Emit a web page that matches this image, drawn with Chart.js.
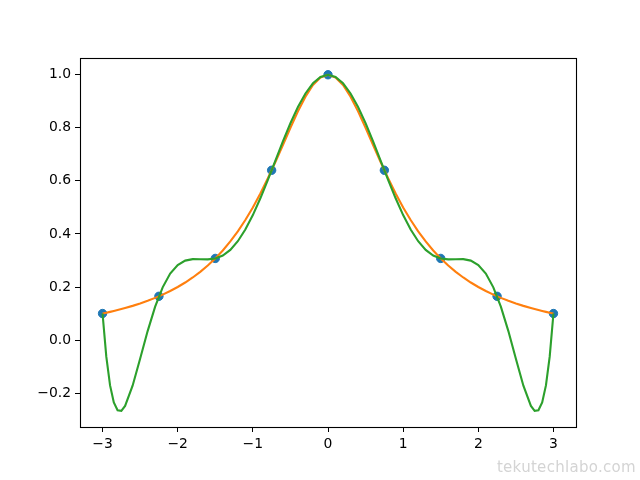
<!DOCTYPE html>
<html>
<head>
<meta charset="utf-8">
<script src="https://cdn.jsdelivr.net/npm/chart.js@4"></script>
<style>
  html, body { margin: 0; padding: 0; background: #fff; }
  #wrap { position: relative; width: 640px; height: 480px; }
  #mark { position: absolute; right: 4px; top: 458px; font-family: "DejaVu Sans", sans-serif; font-size: 15px; color: #d4d4d4; letter-spacing: 0.3px; }
</style>
</head>
<body>
<div id="wrap">
  <canvas id="chart" width="640" height="480"></canvas>
  <div id="mark">tekutechlabo.com</div>
</div>
<script>
// sample points
const nodeX = [-3, -2.25, -1.5, -0.75, 0, 0.75, 1.5, 2.25, 3];
const nodeY = [0.1, 0.164948, 0.307692, 0.64, 1.0, 0.64, 0.307692, 0.164948, 0.1];

// x positions of the curves
const curveX = [
  -3.0, -2.95, -2.9, -2.85, -2.8, -2.75, -2.7, -2.6, -2.5, -2.4, -2.3, -2.2, -2.1, -2.0,
  -1.9, -1.8, -1.7, -1.6, -1.5, -1.4, -1.3, -1.2, -1.1, -1.0,
  -0.9, -0.8, -0.7, -0.6, -0.5, -0.4, -0.3, -0.2, -0.1, 0.0,
  0.1, 0.2, 0.3, 0.4, 0.5, 0.6, 0.7, 0.8, 0.9, 1.0,
  1.1, 1.2, 1.3, 1.4, 1.5, 1.6, 1.7, 1.8, 1.9, 2.0,
  2.1, 2.2, 2.3, 2.4, 2.5, 2.6, 2.7, 2.75, 2.8, 2.85, 2.9, 2.95, 3.0
];

// orange: original function
const trueY = [
  0.1, 0.103066, 0.10627, 0.109619, 0.113122, 0.116788, 0.120627, 0.128866, 0.137931, 0.147929, 0.158983, 0.171233, 0.184843, 0.2,
  0.21692, 0.235849, 0.257069, 0.280899, 0.307692, 0.337838, 0.371747, 0.409836, 0.452489, 0.5,
  0.552486, 0.609756, 0.671141, 0.735294, 0.8, 0.862069, 0.917431, 0.961538, 0.990099, 1.0,
  0.990099, 0.961538, 0.917431, 0.862069, 0.8, 0.735294, 0.671141, 0.609756, 0.552486, 0.5,
  0.452489, 0.409836, 0.371747, 0.337838, 0.307692, 0.280899, 0.257069, 0.235849, 0.21692, 0.2,
  0.184843, 0.171233, 0.158983, 0.147929, 0.137931, 0.128866, 0.120627, 0.116788, 0.113122, 0.109619, 0.10627, 0.103066, 0.1
];

// green: interpolating polynomial
const polyY = [
  0.1, -0.0627, -0.1709, -0.2352, -0.2645, -0.2667, -0.2483, -0.1719, -0.0701, 0.0338, 0.1258, 0.1988, 0.2508, 0.2830,
  0.2995, 0.3049, 0.3048, 0.3042, 0.3077, 0.3188, 0.3400, 0.3725, 0.4166, 0.4711,
  0.5344, 0.6039, 0.6764, 0.7487, 0.8171, 0.8784, 0.9296, 0.9680, 0.9919, 1.0,
  0.9919, 0.9680, 0.9296, 0.8784, 0.8171, 0.7487, 0.6764, 0.6039, 0.5344, 0.4711,
  0.4166, 0.3725, 0.3400, 0.3188, 0.3077, 0.3042, 0.3048, 0.3049, 0.2995, 0.2830,
  0.2508, 0.1988, 0.1258, 0.0338, -0.0701, -0.1719, -0.2483, -0.2667, -0.2645, -0.2352, -0.1709, -0.0627, 0.1
];

const xTicks = [-3, -2, -1, 0, 1, 2, 3];
const yTicks = [-0.2, 0.0, 0.2, 0.4, 0.6, 0.8, 1.0];

function pts(xs, ys) {
  return xs.map((x, i) => ({ x: x, y: ys[i] }));
}

function fmt(v, digits) {
  const s = digits ? Number(v).toFixed(digits) : String(Math.round(v));
  return s.replace('-', '\u2212');
}

// axes frame on all four sides
const framePlugin = {
  id: 'frame',
  afterDraw(chart) {
    const a = chart.chartArea;
    const ctx = chart.ctx;
    ctx.save();
    ctx.strokeStyle = '#000';
    ctx.lineWidth = 1.1;
    ctx.strokeRect(Math.round(a.left) + 0.5, Math.round(a.top) + 0.5,
      Math.round(a.right - a.left), Math.round(a.bottom - a.top));
    ctx.restore();
  }
};

const tickFont = { family: '"DejaVu Sans", sans-serif', size: 13.9 };

new Chart(document.getElementById('chart').getContext('2d'), {
  type: 'scatter',
  data: {
    datasets: [
      {
        data: pts(nodeX, nodeY),
        backgroundColor: '#1f77b4',
        borderColor: '#1f77b4',
        pointRadius: 4.2,
        pointHoverRadius: 4.2,
        showLine: false,
        order: 3
      },
      {
        data: pts(curveX, trueY),
        borderColor: '#ff7f0e',
        borderWidth: 2.1,
        pointRadius: 0,
        showLine: true,
        tension: 0,
        order: 2
      },
      {
        data: pts(curveX, polyY),
        borderColor: '#2ca02c',
        borderWidth: 2.1,
        pointRadius: 0,
        showLine: true,
        tension: 0,
        order: 1
      }
    ]
  },
  options: {
    responsive: false,
    animation: false,
    events: [],
    layout: { padding: { top: 58, right: 64, left: 0, bottom: 0 } },
    plugins: {
      legend: { display: false },
      tooltip: { enabled: false }
    },
    scales: {
      x: {
        type: 'linear',
        min: -3.3,
        max: 3.3,
        afterBuildTicks: scale => { scale.ticks = xTicks.map(v => ({ value: v })); },
        afterFit: scale => { scale.height = 53; },
        grid: { drawOnChartArea: false, drawTicks: true, tickLength: 5, tickColor: '#000', color: '#000' },
        border: { display: false },
        ticks: { color: '#000', font: tickFont, padding: 4, maxRotation: 0, callback: v => fmt(v, 0) }
      },
      y: {
        type: 'linear',
        min: -0.3277,
        max: 1.0632,
        afterBuildTicks: scale => { scale.ticks = yTicks.map(v => ({ value: v })); },
        afterFit: scale => { scale.width = 80; },
        grid: { drawOnChartArea: false, drawTicks: true, tickLength: 5, tickColor: '#000', color: '#000' },
        border: { display: false },
        ticks: { color: '#000', font: tickFont, padding: 4, callback: v => fmt(v, 1) }
      }
    }
  },
  plugins: [framePlugin]
});
</script>
</body>
</html>
